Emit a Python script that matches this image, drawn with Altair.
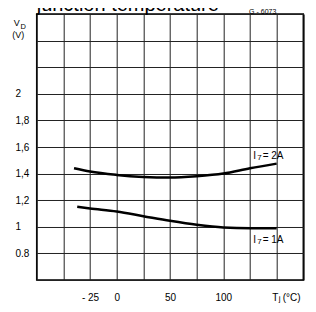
import altair as alt
import pandas as pd

# Curve data (junction temperature °C, forward voltage V)
t_2a = [-40, -25, 0, 25, 50, 75, 100, 125, 150]
v_2a = [1.44, 1.415, 1.39, 1.375, 1.37, 1.38, 1.40, 1.44, 1.475]
t_1a = [-37, -25, 0, 25, 50, 75, 100, 125, 150]
v_1a = [1.15, 1.1375, 1.115, 1.08, 1.045, 1.015, 0.995, 0.99, 0.99]

x_grid = [-75, -50, -25, 0, 25, 50, 75, 100, 125, 150, 175]
x_tick_vals = [-25, 0, 50, 100]
x_tick_text = ["- 25", "0", "50", "100"]
y_grid = [0.6, 0.8, 1.0, 1.2, 1.4, 1.6, 1.8, 2.0, 2.2, 2.4, 2.6]
y_tick_vals = [0.8, 1.0, 1.2, 1.4, 1.6, 1.8, 2.0]
y_tick_text = ["0.8", "1", "1,2", "1,4", "1,6", "1,8", "2"]

curve_label_t = [128, 128]
curve_label_v = [1.53, 0.90]
curve_label_text = ["= 2A", "= 1A"]


def label_expr(vals, texts):
    expr = "''"
    for v, t in reversed(list(zip(vals, texts))):
        expr = f"datum.value == {v} ? '{t}' : ({expr})"
    return expr


FONT = "Liberation Sans"

df = pd.DataFrame({
    "T": t_2a + t_1a,
    "V": v_2a + v_1a,
    "s": ["2A"] * len(t_2a) + ["1A"] * len(t_1a),
})

xscale = alt.Scale(domain=[-75, 175], nice=False, zero=False)
yscale = alt.Scale(domain=[0.6, 2.6], nice=False, zero=False)

x_axis = alt.Axis(
    values=x_grid, labelExpr=label_expr(x_tick_vals, x_tick_text),
    grid=True, ticks=False, tickSize=0, domain=False, title=None,
    labelPadding=18, labelBaseline="middle", labelAlign="center",
    labelFontSize=10, labelFont=FONT, labelColor="black",
    labelOverlap=False, labelFlush=False)
y_axis = alt.Axis(
    values=y_grid, labelExpr=label_expr(y_tick_vals, y_tick_text),
    grid=True, ticks=False, tickSize=0, domain=False, title=None,
    labelPadding=21.7, labelAlign="left", labelBaseline="middle",
    labelFontSize=10, labelFont=FONT, labelColor="black",
    labelOverlap=False, labelFlush=False)

X = alt.X("T:Q", scale=xscale, axis=x_axis)
Y = alt.Y("V:Q", scale=yscale, axis=y_axis)

lines = alt.Chart(df).mark_line(
    color="black", strokeWidth=2.5, interpolate="monotone"
).encode(x=X, y=Y, detail="s:N")

lab_df = pd.DataFrame({"T": curve_label_t, "V": curve_label_v, "txt": curve_label_text})
lab_i = alt.Chart(lab_df).mark_text(
    align="left", baseline="middle", fontSize=10, font=FONT, color="black", dx=0
).encode(x=X, y=Y, text=alt.value("I"))
lab_7 = alt.Chart(lab_df).mark_text(
    align="left", baseline="middle", fontSize=8, font=FONT, color="black", dx=4, dy=2
).encode(x=X, y=Y, text=alt.value("7"))
lab_rest = alt.Chart(lab_df).mark_text(
    align="left", baseline="middle", fontSize=10, font=FONT, color="black", dx=9.5
).encode(x=X, y=Y, text="txt:N")


def txt(s, x, y, size, align="center", baseline="middle"):
    return alt.Chart(pd.DataFrame({"t": [s]})).mark_text(
        align=align, baseline=baseline, fontSize=size, font=FONT, color="black"
    ).encode(x=alt.value(x), y=alt.value(y), text="t:N")


title = txt("junction temperature", 0, -3, 20, align="left", baseline="alphabetic")
code = txt("G - 6073", 226, -2.5, 7)
vd_v = txt("V", -20, 8.5, 9)
vd_d = txt("D", -13.5, 12.5, 7.5)
vd_unit = txt("(V)", -18.5, 21, 9)
tj_t = txt("T", 238.5, 284, 10)
tj_j = txt("j", 243, 285.5, 8)
tj_unit = txt("(°C)", 246, 284, 10, align="left")

chart = alt.layer(
    lines, lab_i, lab_7, lab_rest, title, code, vd_v, vd_d, vd_unit, tj_t, tj_j, tj_unit
).properties(
    width=266.6, height=266,
    autosize=alt.AutoSizeParams(type="none"),
    padding={"left": 28.7, "top": 6, "right": 3, "bottom": 23},
).configure_view(
    stroke="black", strokeWidth=1.5
).configure_axis(
    gridColor="#222", gridWidth=1, gridOpacity=1
)

chart.save("out.html", embed_options={"renderer": "svg", "actions": False})
